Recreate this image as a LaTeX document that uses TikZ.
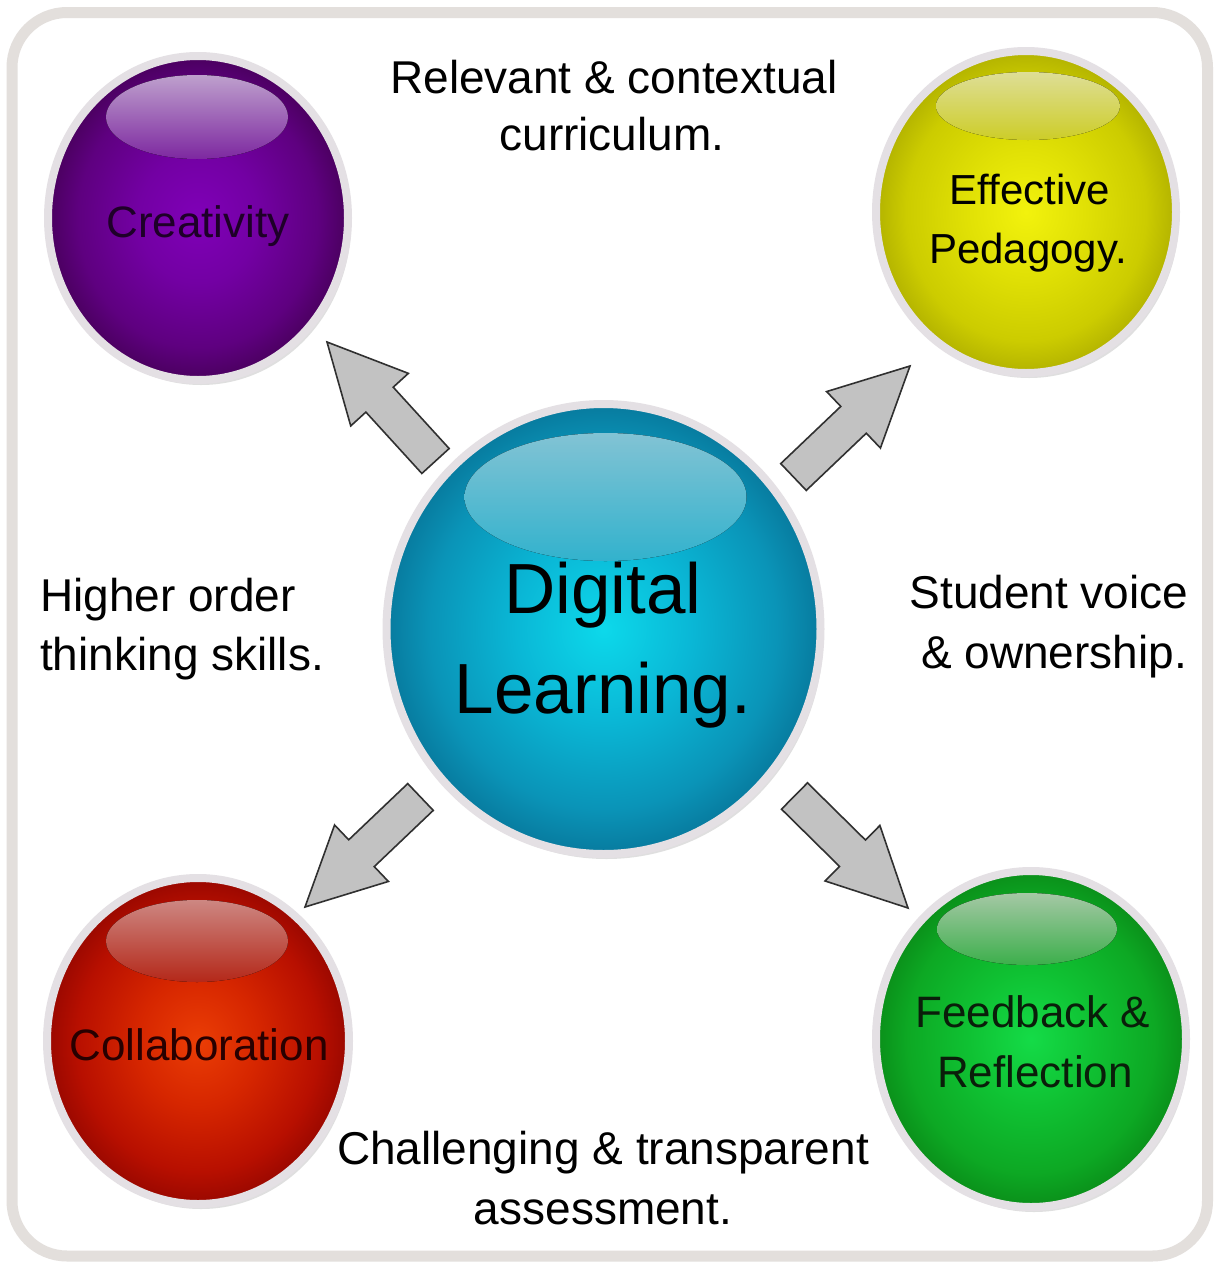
\documentclass[tikz,border=0pt]{standalone}
\usepackage{fontspec}
\setmainfont{Liberation Sans}
\usetikzlibrary{calc,shapes.geometric,shadows}

\definecolor{framegray}{HTML}{E3DFDC}
\definecolor{arrowgray}{HTML}{C2C2C2}
\definecolor{arrowline}{HTML}{303030}
\definecolor{rimcol}{HTML}{E4E0E4}

\pgfdeclareradialshading{shPurple}{\pgfpoint{0bp}{0bp}}{rgb(0bp)=(0.50,0.00,0.72); rgb(10bp)=(0.45,0.00,0.64); rgb(20bp)=(0.37,0.00,0.50); rgb(25bp)=(0.29,0.00,0.37); rgb(50bp)=(0.29,0.00,0.37)}
\pgfdeclareradialshading{shYellow}{\pgfpoint{0bp}{0bp}}{rgb(0bp)=(0.95,0.95,0.05); rgb(10bp)=(0.88,0.88,0.02); rgb(20bp)=(0.80,0.80,0.00); rgb(25bp)=(0.70,0.70,0.00); rgb(50bp)=(0.70,0.70,0.00)}
\pgfdeclareradialshading{shCyan}{\pgfpoint{0bp}{0bp}}{rgb(0bp)=(0.05,0.85,0.92); rgb(10bp)=(0.04,0.72,0.84); rgb(20bp)=(0.04,0.58,0.72); rgb(25bp)=(0.03,0.48,0.62); rgb(50bp)=(0.03,0.48,0.62)}
\pgfdeclareradialshading{shRed}{\pgfpoint{0bp}{0bp}}{rgb(0bp)=(0.92,0.24,0.02); rgb(10bp)=(0.84,0.15,0.00); rgb(20bp)=(0.72,0.06,0.00); rgb(25bp)=(0.60,0.03,0.00); rgb(50bp)=(0.60,0.03,0.00)}
\pgfdeclareradialshading{shGreen}{\pgfpoint{0bp}{0bp}}{rgb(0bp)=(0.08,0.86,0.28); rgb(10bp)=(0.06,0.76,0.20); rgb(20bp)=(0.05,0.66,0.14); rgb(25bp)=(0.04,0.56,0.10); rgb(50bp)=(0.04,0.56,0.10)}

\tikzset{
  ball/.style={ellipse, inner sep=0pt, draw=rimcol, line width=8pt,
    drop shadow={shadow xshift=3pt, shadow yshift=-5pt, opacity=0.25}},
  hl/.style={draw=none},
  outertext/.style={inner sep=0pt, font=\fontsize{46}{55}\selectfont, text=black},
  balltext/.style={inner sep=0pt, font=\fontsize{44}{52}\selectfont},
  barrow/.style={fill=arrowgray, draw=arrowline, line width=1.6pt, line join=miter},
}

% block arrow from tail coordinate #1 to tip coordinate #2
\newcommand\blockarrow[2]{%
  \coordinate (#1h) at ($(#2)!78pt!(#1)$);
  \draw[barrow]
    ($(#1)!18.5pt!90:(#2)$) -- ($(#1h)!18.5pt!-90:(#1)$) --
    ($(#1h)!39pt!-90:(#1)$) -- (#2) -- ($(#1h)!39pt!90:(#1)$) --
    ($(#1h)!18.5pt!90:(#1)$) -- ($(#1)!18.5pt!-90:(#2)$) -- cycle;}

\begin{document}
\begin{tikzpicture}[x=1pt,y=-1pt]
\useasboundingbox (0,0) rectangle (1216,1267);
\fill[white] (0,0) rectangle (1216,1267);

% frame
\draw[framegray, line width=11pt, rounded corners=55pt] (12,12.5) rectangle (1207.5,1256);

% balls
\node[ball, shading=shPurple, minimum width=300pt, minimum height=324pt] (cre) at (198,218) {};
\node[ball, shading=shYellow, minimum width=300pt, minimum height=322pt] (ped) at (1026,212) {};
\node[ball, shading=shCyan,   minimum width=434pt, minimum height=450pt] (dl)  at (603.5,629) {};
\node[ball, shading=shRed,    minimum width=302pt, minimum height=326pt] (col) at (198,1041) {};
\node[ball, shading=shGreen,  minimum width=310pt, minimum height=336pt] (fb)  at (1031,1039) {};

% highlights
\fill[hl, top color={rgb,255:red,190;green,160;blue,205}, bottom color={rgb,255:red,125;green,40;blue,160}]
  ($(cre.center)+(-1,-101)$) ellipse [x radius=91, y radius=42];
\fill[hl, top color={rgb,255:red,222;green,222;blue,150}, bottom color={rgb,255:red,205;green,205;blue,40}]
  ($(ped.center)+(2,-106)$) ellipse [x radius=92, y radius=34];
\fill[hl, top color={rgb,255:red,130;green,195;blue,212}, bottom color={rgb,255:red,50;green,178;blue,205}]
  ($(dl.center)+(2,-132)$) ellipse [x radius=141, y radius=64];
\fill[hl, top color={rgb,255:red,205;green,135;blue,130}, bottom color={rgb,255:red,180;green,40;blue,25}]
  ($(col.center)+(-1,-100)$) ellipse [x radius=91, y radius=41];
\fill[hl, top color={rgb,255:red,165;green,200;blue,165}, bottom color={rgb,255:red,60;green,175;blue,75}]
  ($(fb.center)+(-4,-110)$) ellipse [x radius=90, y radius=36];

% ball labels
\node[balltext, anchor=base, text={rgb,255:red,30;green,0;blue,40}] (creT) at (198,237) {Creativity};
\node[balltext, anchor=base, font=\fontsize{42}{50}\selectfont] (pedT1) at (1030,204) {Effective};
\node[balltext, anchor=base, font=\fontsize{42}{50}\selectfont] (pedT2) at (1028,263) {Pedagogy.};
\node[inner sep=0pt, anchor=base, font=\fontsize{71}{80}\selectfont] (dlT1) at (603,613) {Digital};
\node[inner sep=0pt, anchor=base, font=\fontsize{71}{80}\selectfont] (dlT2) at (603,713) {Learning.};
\node[balltext, anchor=base, text={rgb,255:red,40;green,0;blue,0}] (colT) at (199,1060) {Collaboration};
\node[balltext, anchor=base, text={rgb,255:red,10;green,30;blue,10}] (fbT1) at (1033,1027) {Feedback \&};
\node[balltext, anchor=base, text={rgb,255:red,10;green,30;blue,10}] (fbT2) at (1035,1087) {Reflection};

% outer labels
\node[outertext, anchor=base] (rel1) at (614,93) {Relevant \& contextual};
\node[outertext, anchor=base] (rel2) at (612,150) {curriculum.};
\node[outertext, anchor=base west] (hot1) at (40,611) {Higher order};
\node[outertext, anchor=base west] (hot2) at (40,670) {thinking skills.};
\node[outertext, anchor=base] (sv1) at (1049,608) {Student voice};
\node[outertext, anchor=base] (sv2) at (1054,668) {\& ownership.};
\node[outertext, anchor=base] (ch1) at (603,1164) {Challenging \& transparent};
\node[outertext, anchor=base] (ch2) at (603,1224) {assessment.};

% arrows
\coordinate (a1s) at (435.5,461); \coordinate (a1t) at (327,342);
\coordinate (a2s) at (793.5,477); \coordinate (a2t) at (910,366);
\coordinate (a3s) at (420.5,797); \coordinate (a3t) at (305,907);
\coordinate (a4s) at (794.5,796); \coordinate (a4t) at (908,908);
\blockarrow{a1s}{a1t}
\blockarrow{a2s}{a2t}
\blockarrow{a3s}{a3t}
\blockarrow{a4s}{a4t}
\end{tikzpicture}
\end{document}
